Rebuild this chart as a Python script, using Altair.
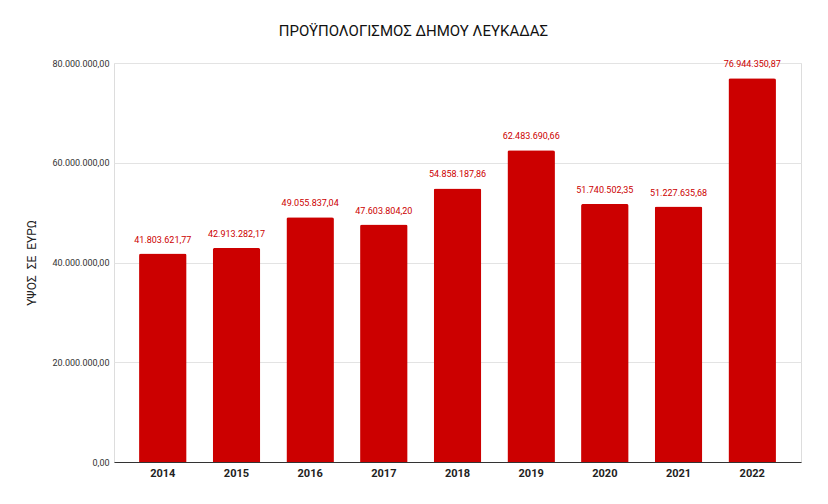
import altair as alt
import pandas as pd

years = ["2014", "2015", "2016", "2017", "2018", "2019", "2020", "2021", "2022"]
budget = [41803621.77, 42913282.17, 49055837.04, 47603804.20, 54858187.86,
          62483690.66, 51740502.35, 51227635.68, 76944350.87]

df = pd.DataFrame({"year": years, "value": budget})

FONT = "Roboto"
RED = "#cc0000"

x = alt.X("year:N", title=None, sort=None,
          scale=alt.Scale(paddingInner=0.355, paddingOuter=0.34),
          axis=alt.Axis(labelAngle=0, labelFontWeight="bold", labelFontSize=11,
                        labelColor="#222222", labelFont=FONT, ticks=False,
                        domainColor="#333333", labelPadding=5))
y = alt.Y("value:Q", title="ΥΨΟΣ\u00a0 ΣΕ\u00a0 ΕΥΡΩ",
          scale=alt.Scale(domain=[0, 80000000]),
          axis=alt.Axis(values=[0, 20000000, 40000000, 60000000, 80000000],
                        format=",.2f", labelFontSize=9, labelColor="#333333",
                        labelFont=FONT, ticks=False, domain=False,
                        gridColor="#e3e3e3", titleFont=FONT, titleFontSize=12,
                        titleFontWeight="normal", titleColor="#222222",
                        titlePadding=13, labelPadding=5))

bars = alt.Chart(df).mark_bar(color=RED, cornerRadiusTopLeft=2,
                              cornerRadiusTopRight=2).encode(x=x, y=y)
labels = alt.Chart(df).mark_text(dy=-14, fontSize=9, font=FONT, color=RED).encode(
    x=x, y=y, text=alt.Text("value:Q", format=",.2f"))

chart = (bars + labels).properties(
    width=687, height=399,
    padding={"top": 16, "left": 17, "right": 5, "bottom": 5},
    title=alt.TitleParams("ΠΡΟΫΠΟΛΟΓΙΣΜΟΣ ΔΗΜΟΥ ΛΕΥΚΑΔΑΣ", font=FONT, fontSize=15,
                          fontWeight="normal", color="#111111", anchor="middle",
                          frame="bounds", offset=20),
).configure_view(stroke=None).configure(background="white")

chart.save("out.html", embed_options={
    "renderer": "svg", "actions": False,
    "formatLocale": {"decimal": ",", "thousands": ".", "grouping": [3],
                     "currency": ["", " €"]},
})
